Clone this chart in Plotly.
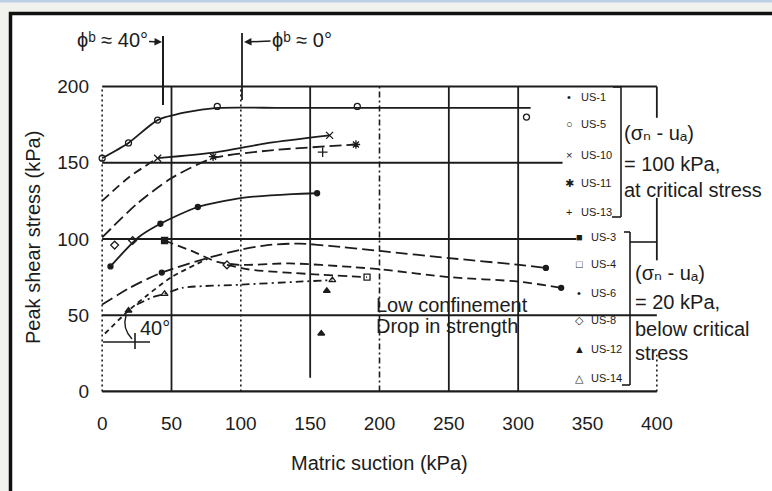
import plotly.graph_objects as go

W, H = 772, 491
ML, MR, MT, MB = 98, 111, 82, 95
PW, PH = W - ML - MR, H - MT - MB

def xp(px):
    return (px - ML) / PW

def yp(py):
    return (H - MB - py) / PH

INK = "#1c1c1c"
FONT = "Liberation Sans, Arial, Helvetica, DejaVu Sans, sans-serif"

# ---------------- data ----------------
x_ticks = [0, 50, 100, 150, 200, 250, 300, 350, 400]
y_ticks = [0, 50, 100, 150, 200]

# (sigma_n - u_a) = 100 kPa
us1_x = [6, 26, 42, 69, 101, 137, 155]
us1_y = [82, 101, 110, 121, 127, 129.5, 130]
us1_mx = [6, 42, 69, 155]
us1_my = [82, 110, 121, 130]

us5_x = [0, 19, 40, 60, 83, 130, 184, 250, 309]
us5_y = [153, 163, 178, 183, 186, 186, 186, 186, 186]
us5_mx = [0, 19, 40, 83, 184, 306]
us5_my = [153, 163, 178, 187, 187, 180]

us10_x = [0, 20, 40, 83, 120, 164]
us10_y = [125, 141, 153, 157, 163, 168]
us10_mx = [40, 164]
us10_my = [153, 168]

us11_x = [0, 25, 50, 80, 120, 183]
us11_y = [101, 123, 140, 153, 158, 162]
us11_mx = [80, 183]
us11_my = [154, 162]

us13_mx = [159]
us13_my = [157]

# (sigma_n - u_a) = 20 kPa
us3_x = [45, 65, 83, 100, 135, 182, 202, 250, 301, 331]
us3_y = [99, 92, 85, 83, 84, 81.5, 80, 75, 72, 68]
us3_mx = [45]
us3_my = [99]
us3_endx = [331]
us3_endy = [68]

us4_x = [90, 106, 150, 191]
us4_y = [83, 80, 77, 75]
us4_mx = [191]
us4_my = [75]

us6_x = [0, 20, 43, 78, 100, 119, 142, 164, 202, 250, 301, 320]
us6_y = [57, 68, 78, 88, 93, 96, 97, 95.5, 92, 87.5, 83, 81]
us6_mx = [43, 320]
us6_my = [78, 81]

us8_mx = [9, 22, 90]
us8_my = [96, 99, 83]

us12_x = [2, 19, 31, 50, 76]
us12_y = [38, 53, 62, 75, 87]
us12_mx = [19, 162, 158]
us12_my = [53, 66, 38]

us14_x = [25, 37, 45, 58, 99, 142, 166]
us14_y = [57, 62, 64, 68, 70, 72, 73]
us14_mx = [45, 166]
us14_my = [64, 73]

legend_top = ["US-1", "US-5", "US-10", "US-11", "US-13"]
legend_top_sym = ["•", "○", "×", "✱", "+"]
legend_bot = ["US-3", "US-4", "US-6", "US-8", "US-12", "US-14"]
legend_bot_sym = ["■", "□", "•", "◇", "▲", "△"]

# ---------------- figure ----------------
fig = go.Figure()

def add_line(x, y, dash, width=1.8):
    fig.add_trace(go.Scatter(
        x=x, y=y, mode="lines",
        line=dict(color=INK, width=width, dash=dash, shape="spline", smoothing=0.7),
        hoverinfo="skip", showlegend=False))

def add_marks(x, y, symbol, size):
    fig.add_trace(go.Scatter(
        x=x, y=y, mode="markers",
        marker=dict(symbol=symbol, size=size, color=INK, line=dict(color=INK, width=1.3)),
        hoverinfo="skip", showlegend=False))

DASH = "9px,5px"
LDASH = "12px,5px"
DDOT = "8px,4px,2px,4px"

add_line(us1_x, us1_y, "solid")
add_marks(us1_mx, us1_my, "circle", 5)

add_line(us5_x, us5_y, "solid")
add_marks(us5_mx, us5_my, "circle-open", 6)

add_line(us10_x[:3], us10_y[:3], DASH)
add_line(us10_x[2:], us10_y[2:], "solid")
add_marks(us10_mx, us10_my, "x-thin-open", 7)

add_line(us11_x, us11_y, LDASH)
add_marks(us11_mx, us11_my, "asterisk-open", 7)

add_marks(us13_mx, us13_my, "cross-thin-open", 7)

add_line(us3_x, us3_y, DASH)
add_marks(us3_mx, us3_my, "square", 6)
add_marks(us3_endx, us3_endy, "circle", 5)

add_line(us4_x, us4_y, DASH)
add_marks(us4_mx, us4_my, "square-open", 6)

add_line(us6_x, us6_y, LDASH)
add_marks(us6_mx, us6_my, "circle", 5)

add_marks(us8_mx, us8_my, "diamond-open", 6)

add_line(us12_x, us12_y, "5px,4px")
add_marks(us12_mx, us12_my, "triangle-up", 6)

add_line(us14_x, us14_y, DDOT)
add_marks(us14_mx, us14_my, "triangle-up-open", 6)

# ---------------- shapes ----------------
shapes = []

def seg_px(x0, y0, x1, y1, w=1.8, dash="solid", color=INK):
    shapes.append(dict(type="line", xref="paper", yref="paper",
                       x0=xp(x0), y0=yp(y0), x1=xp(x1), y1=yp(y1),
                       line=dict(color=color, width=w, dash=dash)))

def seg_d(x0, y0, x1, y1, w=1.8, dash="solid"):
    shapes.append(dict(type="line", xref="x", yref="y",
                       x0=x0, y0=y0, x1=x1, y1=y1,
                       line=dict(color=INK, width=w, dash=dash)))

# page background frame
shapes.append(dict(type="rect", xref="paper", yref="paper", layer="below",
                   x0=xp(0), y0=yp(0), x1=xp(W), y1=yp(2.5),
                   fillcolor="#bccfe6", line=dict(width=0)))
shapes.append(dict(type="rect", xref="paper", yref="paper", layer="below",
                   x0=xp(10.5), y0=yp(13.5), x1=xp(W + 30), y1=yp(H + 30),
                   fillcolor="white", line=dict(color="#111111", width=3.5)))

# grid / frame in data coordinates
seg_d(0, 0, 0, 200, 1.6, "2px,3px")
seg_d(50, 0, 50, 200, 1.8)
seg_d(100, 0, 100, 200, 1.6, "2px,3px")
seg_d(150, 9, 150, 200, 1.8)
seg_d(200, 0, 200, 200, 1.6, "6px,3px,2px,3px")
seg_d(250, 0, 250, 200, 1.8)
seg_d(300, 0, 300, 200, 1.8)
seg_d(400, 179.5, 400, 200, 1.8)
seg_d(400, 86, 400, 127, 1.8)
seg_d(400, 0, 400, 24, 1.6, "2px,3px")

seg_d(0, 200, 400, 200, 2.0)
seg_d(0, 150, 332, 150, 2.0)
seg_d(0, 100, 342, 100, 2.0)
seg_d(0, 50, 400, 50, 2.0)
seg_d(0, 0, 400, 0, 2.2)

# phi_b markers above the plot
seg_px(163, 36, 163, 105, 2.0)
seg_px(242, 33, 242, 100, 1.8)

# brackets of the legend groups
seg_px(613, 87, 621, 87, 1.6)
seg_px(621, 87, 621, 217, 1.6)
seg_px(612, 217, 621, 217, 1.6)
seg_px(624, 232, 630, 232, 1.6)
seg_px(630, 232, 630, 385, 1.6)
seg_px(622, 385, 630, 385, 1.6)
seg_px(630, 242, 657, 242, 1.6)

# 40 degree sketch
seg_px(103, 342, 150, 342, 1.6)
seg_px(135, 333, 135, 349, 1.6)
shapes.append(dict(type="path", xref="paper", yref="paper",
                   path="M {:.4f},{:.4f} Q {:.4f},{:.4f} {:.4f},{:.4f}".format(
                       xp(126), yp(316), xp(122), yp(328), xp(132), yp(339)),
                   line=dict(color=INK, width=1.4)))

# ---------------- annotations ----------------
ann = []

def txt(text, px, py, size=20, xanchor="left", yanchor="middle", angle=0):
    ann.append(dict(text=text, x=xp(px), y=yp(py), xref="paper", yref="paper",
                    xanchor=xanchor, yanchor=yanchor, showarrow=False,
                    textangle=angle, font=dict(family=FONT, size=size, color=INK)))

txt("Peak shear stress (kPa)", 33, 238, 20, "center", "middle", -90)
txt("Matric suction (kPa)", 379, 463, 20, "center", "middle")

ann.append(dict(text="ϕᵇ ≈ 40°", x=xp(162), y=yp(42),
                xref="paper", yref="paper", ax=-50, ay=-2, showarrow=True,
                arrowhead=2, arrowsize=1, arrowwidth=1.5, arrowcolor=INK,
                font=dict(family=FONT, size=20, color=INK)))
ann.append(dict(text="ϕᵇ ≈ 0°", x=xp(244), y=yp(42),
                xref="paper", yref="paper", ax=58, ay=-2, showarrow=True,
                arrowhead=2, arrowsize=1, arrowwidth=1.5, arrowcolor=INK,
                font=dict(family=FONT, size=20, color=INK)))

txt("Low confinement", 374, 305, 20)
txt("Drop in strength", 374, 326, 20)
txt("40°", 155, 328, 20, "center")

txt("(σₙ - uₐ)", 622, 133, 20)
txt("= 100 kPa,", 622, 164, 20)
txt("at critical stress", 622, 190, 20)
txt("(σₙ - uₐ)", 633, 273, 20)
txt("= 20 kPa,", 633, 302, 20)
txt("below critical", 633, 329, 20)
txt("stress", 633, 353, 20)

top_y = [97, 124, 155, 183, 212]
for lab, sym, py in zip(legend_top, legend_top_sym, top_y):
    txt(sym, 569, py, 11, "center")
    txt(lab, 579, py, 11)
bot_y = [237, 264, 293, 320, 349, 378]
for lab, sym, py in zip(legend_bot, legend_bot_sym, bot_y):
    txt(sym, 579, py, 11, "center")
    txt(lab, 589, py, 11)

fig.update_layout(
    width=W, height=H,
    margin=dict(l=ML, r=MR, t=MT, b=MB, pad=0),
    paper_bgcolor="#f1f1ed",
    plot_bgcolor="rgba(0,0,0,0)",
    shapes=shapes,
    annotations=ann,
    font=dict(family=FONT, color=INK),
    showlegend=False,
    xaxis=dict(range=[-3, 403], tickvals=x_ticks, ticktext=[str(v) for v in x_ticks],
               showgrid=False, zeroline=False, showline=False, ticks="",
               ticklabelstandoff=14, tickfont=dict(family=FONT, size=19, color=INK),
               fixedrange=True),
    yaxis=dict(range=[-3, 203], tickvals=y_ticks, ticktext=[str(v) for v in y_ticks],
               showgrid=False, zeroline=False, showline=False, ticks="",
               ticklabelstandoff=8, tickfont=dict(family=FONT, size=19, color=INK),
               fixedrange=True),
)

fig.write_html("out.html", config={"displayModeBar": False},
               post_script="document.body.style.margin='0px';document.body.style.overflow='hidden';")
